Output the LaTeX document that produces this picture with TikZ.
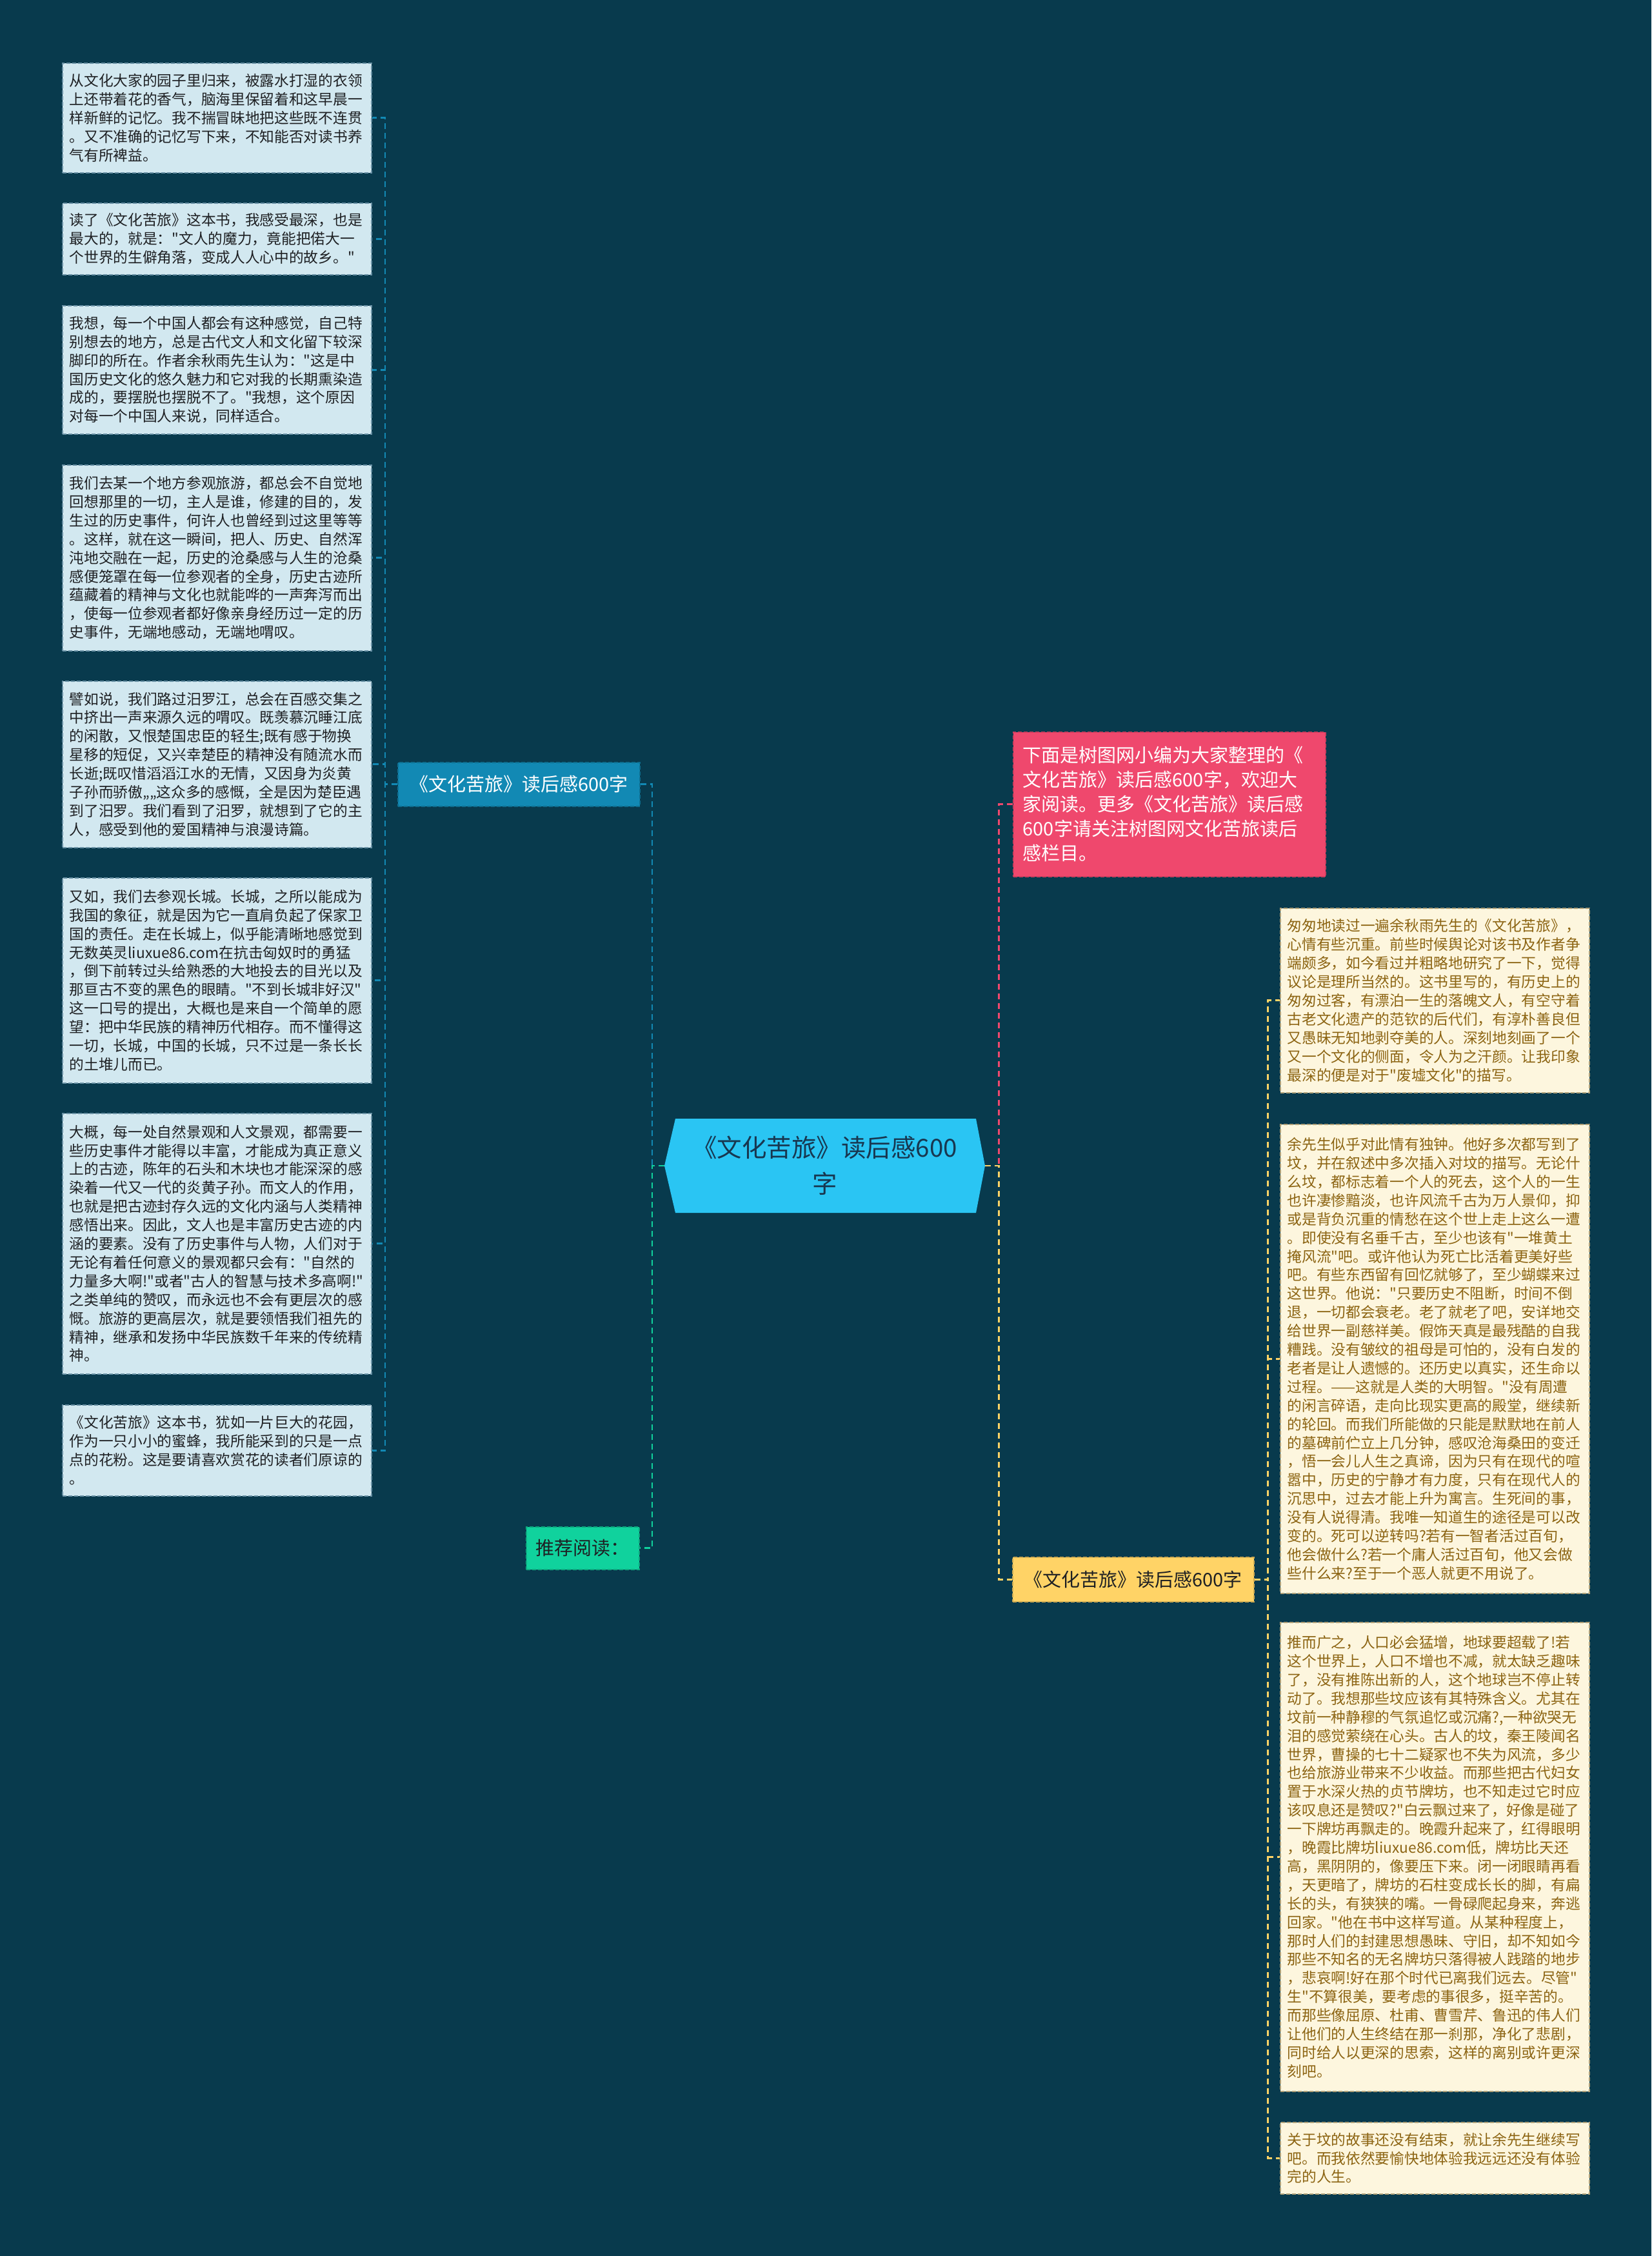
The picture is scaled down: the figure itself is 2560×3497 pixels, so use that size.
\documentclass[tikz,border=0pt]{standalone}
\usepackage{fontspec}
\newfontfamily\cjk{Noto Sans CJK SC}
\usetikzlibrary{calc}
\definecolor{bgc}{RGB}{8,58,77}
\definecolor{lfill}{RGB}{210,232,240}
\definecolor{lbord}{RGB}{105,145,165}
\definecolor{ltext}{RGB}{30,32,35}
\definecolor{rfill}{RGB}{253,246,222}
\definecolor{rbord}{RGB}{175,160,120}
\definecolor{rtext}{RGB}{140,100,18}
\definecolor{cfill}{RGB}{42,197,243}
\definecolor{ctext}{RGB}{24,55,80}
\definecolor{bluec}{RGB}{18,137,180}
\definecolor{pinkc}{RGB}{239,72,109}
\definecolor{yelc}{RGB}{255,211,102}
\definecolor{grnc}{RGB}{16,210,157}
\tikzset{
  lbox/.style={draw=lbord, dash pattern=on 6pt off 3pt, line width=1.5pt, fill=lfill, text=ltext,
    anchor=north west, minimum width=479pt, text width=457pt, inner xsep=11pt, inner ysep=0pt,
    align=left, font=\cjk\fontsize{22.7}{28.9}\selectfont},
  rbox/.style={lbox, draw=rbord, fill=rfill, text=rtext},
  labbox/.style={anchor=north west, inner sep=0pt, align=center, dash pattern=on 6pt off 3pt,
    line width=1.5pt, font=\cjk\fontsize{29}{38}\selectfont},
  conn/.style={line width=2.6pt, dash pattern=on 9pt off 6pt},
}
\begin{document}
\begin{tikzpicture}[x=1pt,y=-1pt]
\useasboundingbox (0,0) rectangle (2560,3497);
\fill[bgc] (0,0) rectangle (2560,3497);

% central topic
\fill[cfill] (1047,1734) -- (1513,1734) -- (1527,1807) -- (1513,1880) -- (1047,1880) -- (1030,1807) -- cycle;
\node[minimum width=497pt, minimum height=146pt, inner sep=0pt, align=center, text=ctext,
  font=\cjk\fontsize{38.5}{56}\selectfont] (c) at (1278.5,1807) {《文化苦旅》读后感600\\字};

% main branches
\node[labbox, fill=bluec, draw=bluec!80!black, text=white, minimum width=375pt, minimum height=68pt] (b) at (616,1181) {《文化苦旅》读后感600字};
\node[labbox, fill=pinkc, draw=pinkc!85!black, text=white, minimum width=484pt, minimum height=224pt,
  text width=454pt, inner xsep=15pt, align=left] (p) at (1570,1134)
  {下面是树图网小编为大家整理的《\\文化苦旅》读后感600字，欢迎大\\家阅读。更多《文化苦旅》读后感\\600字请关注树图网文化苦旅读后\\感栏目。};
\node[labbox, fill=grnc, draw=grnc!80!black, text=ltext, minimum width=175pt, minimum height=66pt] (g) at (815,2366) {推荐阅读：};
\node[labbox, fill=yelc, draw=yelc!80!black, text=ltext, minimum width=374pt, minimum height=69pt] (y) at (1569,2413) {《文化苦旅》读后感600字};

% left boxes
\node[lbox, minimum height=170pt] (L1) at (96,97) {从文化大家的园子里归来，被露水打湿的衣领\\上还带着花的香气，脑海里保留着和这早晨一\\样新鲜的记忆。我不揣冒昧地把这些既不连贯\\。又不准确的记忆写下来，不知能否对读书养\\气有所裨益。};
\node[lbox, minimum height=111pt] (L2) at (96,314) {读了《文化苦旅》这本书，我感受最深，也是\\最大的，就是："文人的魔力，竟能把偌大一\\个世界的生僻角落，变成人人心中的故乡。"};
\node[lbox, minimum height=199pt] (L3) at (96,473) {我想，每一个中国人都会有这种感觉，自己特\\别想去的地方，总是古代文人和文化留下较深\\脚印的所在。作者余秋雨先生认为："这是中\\国历史文化的悠久魅力和它对我的长期熏染造\\成的，要摆脱也摆脱不了。"我想，这个原因\\对每一个中国人来说，同样适合。};
\node[lbox, minimum height=288pt] (L4) at (96,720) {我们去某一个地方参观旅游，都总会不自觉地\\回想那里的一切，主人是谁，修建的目的，发\\生过的历史事件，何许人也曾经到过这里等等\\。这样，就在这一瞬间，把人、历史、自然浑\\沌地交融在一起，历史的沧桑感与人生的沧桑\\感便笼罩在每一位参观者的全身，历史古迹所\\蕴藏着的精神与文化也就能哗的一声奔泻而出\\，使每一位参观者都好像亲身经历过一定的历\\史事件，无端地感动，无端地喟叹。};
\node[lbox, minimum height=258pt] (L5) at (96,1055) {譬如说，我们路过汨罗江，总会在百感交集之\\中挤出一声来源久远的喟叹。既羡慕沉睡江底\\的闲散，又恨楚国忠臣的轻生;既有感于物换\\星移的短促，又兴幸楚臣的精神没有随流水而\\长逝;既叹惜滔滔江水的无情，又因身为炎黄\\子孙而骄傲„„这众多的感慨，全是因为楚臣遇\\到了汨罗。我们看到了汨罗，就想到了它的主\\人，感受到他的爱国精神与浪漫诗篇。};
\node[lbox, minimum height=318pt] (L6) at (96,1360) {又如，我们去参观长城。长城，之所以能成为\\我国的象征，就是因为它一直肩负起了保家卫\\国的责任。走在长城上，似乎能清晰地感觉到\\无数英灵liuxue86.com在抗击匈奴时的勇猛\\，倒下前转过头给熟悉的大地投去的目光以及\\那亘古不变的黑色的眼睛。"不到长城非好汉"\\这一口号的提出，大概也是来自一个简单的愿\\望：把中华民族的精神历代相存。而不懂得这\\一切，长城，中国的长城，只不过是一条长长\\的土堆儿而已。};
\node[lbox, minimum height=404pt] (L7) at (96,1725) {大概，每一处自然景观和人文景观，都需要一\\些历史事件才能得以丰富，才能成为真正意义\\上的古迹，陈年的石头和木块也才能深深的感\\染着一代又一代的炎黄子孙。而文人的作用，\\也就是把古迹封存久远的文化内涵与人类精神\\感悟出来。因此，文人也是丰富历史古迹的内\\涵的要素。没有了历史事件与人物，人们对于\\无论有着任何意义的景观都只会有："自然的\\力量多大啊!"或者"古人的智慧与技术多高啊!"\\之类单纯的赞叹，而永远也不会有更层次的感\\慨。旅游的更高层次，就是要领悟我们祖先的\\精神，继承和发扬中华民族数千年来的传统精\\神。};
\node[lbox, minimum height=141pt] (L8) at (96,2177) {《文化苦旅》这本书，犹如一片巨大的花园，\\作为一只小小的蜜蜂，我所能采到的只是一点\\点的花粉。这是要请喜欢赏花的读者们原谅的\\。};

% right boxes
\node[rbox, minimum height=286pt] (R1) at (1984,1407) {匆匆地读过一遍余秋雨先生的《文化苦旅》，\\心情有些沉重。前些时候舆论对该书及作者争\\端颇多，如今看过并粗略地研究了一下，觉得\\议论是理所当然的。这书里写的，有历史上的\\匆匆过客，有漂泊一生的落魄文人，有空守着\\古老文化遗产的范钦的后代们，有淳朴善良但\\又愚昧无知地剥夺美的人。深刻地刻画了一个\\又一个文化的侧面，令人为之汗颜。让我印象\\最深的便是对于"废墟文化"的描写。};
\node[rbox, minimum height=727pt] (R2) at (1984,1742) {余先生似乎对此情有独钟。他好多次都写到了\\坟，并在叙述中多次插入对坟的描写。无论什\\么坟，都标志着一个人的死去，这个人的一生\\也许凄惨黯淡，也许风流千古为万人景仰，抑\\或是背负沉重的情愁在这个世上走上这么一遭\\。即使没有名垂千古，至少也该有"一堆黄土\\掩风流"吧。或许他认为死亡比活着更美好些\\吧。有些东西留有回忆就够了，至少蝴蝶来过\\这世界。他说："只要历史不阻断，时间不倒\\退，一切都会衰老。老了就老了吧，安详地交\\给世界一副慈祥美。假饰天真是最残酷的自我\\糟践。没有皱纹的祖母是可怕的，没有白发的\\老者是让人遗憾的。还历史以真实，还生命以\\过程。——这就是人类的大明智。"没有周遭\\的闲言碎语，走向比现实更高的殿堂，继续新\\的轮回。而我们所能做的只能是默默地在前人\\的墓碑前伫立上几分钟，感叹沧海桑田的变迁\\，悟一会儿人生之真谛，因为只有在现代的喧\\嚣中，历史的宁静才有力度，只有在现代人的\\沉思中，过去才能上升为寓言。生死间的事，\\没有人说得清。我唯一知道生的途径是可以改\\变的。死可以逆转吗?若有一智者活过百旬，\\他会做什么?若一个庸人活过百旬，他又会做\\些什么来?至于一个恶人就更不用说了。};
\node[rbox, minimum height=727pt] (R3) at (1984,2514) {推而广之，人口必会猛增，地球要超载了!若\\这个世界上，人口不增也不减，就太缺乏趣味\\了，没有推陈出新的人，这个地球岂不停止转\\动了。我想那些坟应该有其特殊含义。尤其在\\坟前一种静穆的气氛追忆或沉痛?,一种欲哭无\\泪的感觉萦绕在心头。古人的坟，秦王陵闻名\\世界，曹操的七十二疑冢也不失为风流，多少\\也给旅游业带来不少收益。而那些把古代妇女\\置于水深火热的贞节牌坊，也不知走过它时应\\该叹息还是赞叹?"白云飘过来了，好像是碰了\\一下牌坊再飘走的。晚霞升起来了，红得眼明\\，晚霞比牌坊liuxue86.com低，牌坊比天还\\高，黑阴阴的，像要压下来。闭一闭眼睛再看\\，天更暗了，牌坊的石柱变成长长的脚，有扁\\长的头，有狭狭的嘴。一骨碌爬起身来，奔逃\\回家。"他在书中这样写道。从某种程度上，\\那时人们的封建思想愚昧、守旧，却不知如今\\那些不知名的无名牌坊只落得被人践踏的地步\\，悲哀啊!好在那个时代已离我们远去。尽管"\\生"不算很美，要考虑的事很多，挺辛苦的。\\而那些像屈原、杜甫、曹雪芹、鲁迅的伟人们\\让他们的人生终结在那一刹那，净化了悲剧，\\同时给人以更深的思索，这样的离别或许更深\\刻吧。};
\node[rbox, minimum height=111pt] (R4) at (1984,3289) {关于坟的故事还没有结束，就让余先生继续写\\吧。而我依然要愉快地体验我远远还没有体验\\完的人生。};

% junction coordinates
\coordinate (cl) at ([xshift=-19pt]c.west);
\coordinate (cr) at ([xshift=21pt]c.east);
\coordinate (bl) at ([xshift=-19pt]b.west);
\coordinate (yr) at ([xshift=21pt]y.east);

% connectors
\draw[conn, bluec] (b.east) -| (cl);
\draw[conn, grnc] (c.west) -- (cl) |- (g.east);
\draw[conn, pinkc] (p.west) -| (cr);
\draw[conn, yelc] (c.east) -- (cr) |- (y.west);
\foreach \i in {1,...,8} {\draw[conn, bluec] (b.west) -- (bl) |- (L\i.east);}
\foreach \i in {1,...,4} {\draw[conn, yelc] (y.east) -- (yr) |- (R\i.west);}
\end{tikzpicture}
\end{document}
